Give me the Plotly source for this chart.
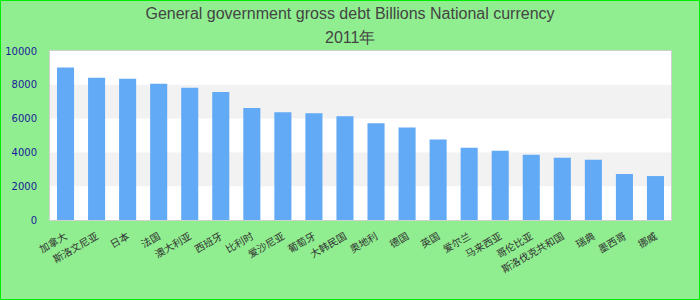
import plotly.graph_objects as go

categories = ["加拿大", "斯洛文尼亚", "日本", "法国", "澳大利亚", "西班牙", "比利时", "爱沙尼亚",
              "葡萄牙", "大韩民国", "奥地利", "德国", "英国", "爱尔兰", "马来西亚", "哥伦比亚",
              "斯洛伐克共和国", "瑞典", "墨西哥", "挪威"]
values = [9020, 8420, 8360, 8060, 7820, 7580, 6620, 6380, 6320, 6140,
          5720, 5480, 4760, 4280, 4100, 3860, 3680, 3560, 2720, 2600]
y_ticks = [0, 2000, 4000, 6000, 8000, 10000]
y_tick_labels = ["0", "2000", "4000", "6000", "8000", "10000"]
title_line1 = "General government gross debt Billions National currency"
title_line2 = "2011年"

fig = go.Figure()
fig.add_trace(go.Bar(x=categories, y=values, marker=dict(color="#62aaf5", line=dict(width=0)),
                     hoverinfo="x+y"))

# alternating bands
shapes = []
for i in range(len(y_ticks) - 1):
    if i % 2 == 1:
        shapes.append(dict(type="rect", xref="paper", yref="y", x0=0, x1=1,
                           y0=y_ticks[i], y1=y_ticks[i + 1], fillcolor="#f2f2f2",
                           line=dict(width=0), layer="below"))

W, H = 700, 300
ml, mr, mt, mb = 50, 29, 51, 80
pw, ph = W - ml - mr, H - mt - mb
shapes.append(dict(type="rect", xref="paper", yref="paper",
                   x0=(0.5 - ml) / pw, x1=(W - 0.5 - ml) / pw,
                   y0=(ph + mt - (H - 0.5)) / ph, y1=(ph + mt - 0.5) / ph,
                   line=dict(color="#00ee00", width=1), fillcolor="rgba(0,0,0,0)"))

title_font = dict(family="Liberation Sans, Arial", size=16, color="#444444")

fig.update_layout(
    width=W, height=H,
    margin=dict(l=ml, r=mr, t=mt, b=mb, pad=0),
    paper_bgcolor="#90ee90",
    plot_bgcolor="#ffffff",
    title=dict(text=title_line1, x=0.5, xanchor="center", y=1 - 13 / H, yanchor="middle",
               font=title_font),
    annotations=[dict(text=title_line2, xref="paper", yref="paper",
                      x=(W / 2 - ml) / pw, y=(ph + mt - 37) / ph,
                      xanchor="center", yanchor="middle", showarrow=False, font=title_font)],
    bargap=0.45,
    showlegend=False,
    shapes=shapes,
    xaxis=dict(tickangle=-30, tickfont=dict(family="Noto Sans CJK SC", size=10, color="#333333"),
               showgrid=False, showline=True, linecolor="#d0d0d0", linewidth=1, mirror=True,
               ticks="outside", ticklen=6, tickcolor="rgba(0,0,0,0)", automargin=False),
    yaxis=dict(range=[0, 10000], tickvals=y_ticks, ticktext=y_tick_labels,
               showgrid=False, zeroline=False,
               tickfont=dict(family="DejaVu Sans, Verdana", size=10, color="#1a1a99"),
               showline=True, linecolor="#d0d0d0", linewidth=1, mirror=True,
               ticks="outside", ticklen=10, tickcolor="rgba(0,0,0,0)", automargin=False),
)

fig.write_html("out.html")
